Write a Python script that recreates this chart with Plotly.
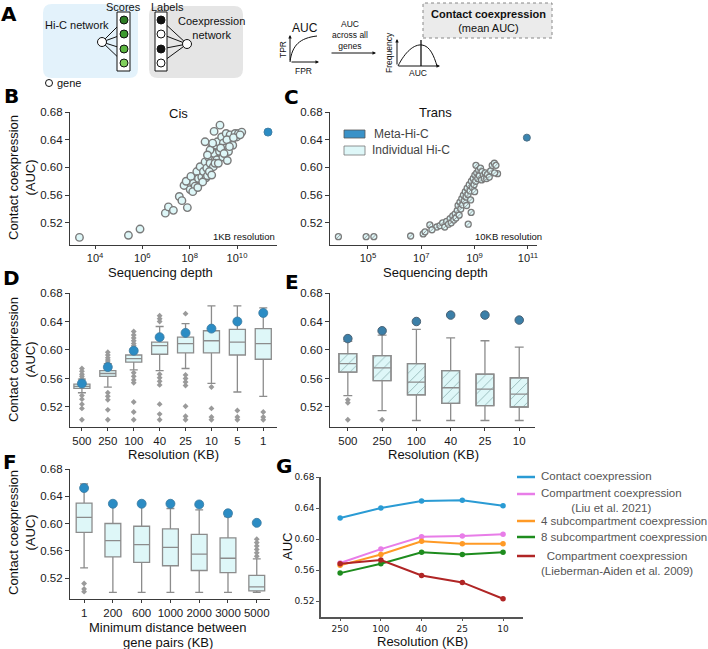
import plotly.graph_objects as go

W, H = 708, 649
def X(x): return x / W
def Y(y): return 1 - y / H

FONT = "Liberation Sans, Arial, sans-serif"
BOXFILL = "#def7f8"
BOXLINE = "#8c8c8c"
META = "#2b8cc4"
OUTL = "#9a9a9a"

# ---------------- data ----------------
# B: cis, 1KB resolution (log10 sequencing depth, AUC)
cis_log10_depth = [3.34, 5.41, 5.90, 6.97, 7.10, 7.31, 7.56, 7.67, 7.90, 7.76, 7.85, 8.02, 8.05, 8.16,
                   8.23, 8.30, 8.37, 8.44, 8.51, 8.58, 8.65, 8.69, 8.72, 8.79, 8.86, 8.65, 8.93, 9.00,
                   9.03, 9.03, 9.12, 9.15, 9.17, 9.26, 9.28, 9.35, 9.40, 9.42, 9.50, 9.54, 9.59, 9.64,
                   9.71, 9.78, 9.82, 9.92, 9.99, 10.06, 10.20, 8.13, 8.34, 8.55, 8.75, 8.83, 8.93, 9.07,
                   9.21, 9.31, 9.45, 9.57, 9.68, 9.85, 10.13, 8.86, 8.97, 8.75]
cis_auc = [0.499, 0.502, 0.511, 0.534, 0.543, 0.538, 0.558, 0.552, 0.542, 0.574, 0.580, 0.568, 0.587, 0.577,
           0.573, 0.594, 0.584, 0.601, 0.586, 0.594, 0.608, 0.585, 0.599, 0.615, 0.606, 0.637, 0.628, 0.601,
           0.620, 0.652, 0.632, 0.611, 0.637, 0.623, 0.661, 0.644, 0.615, 0.635, 0.628, 0.649, 0.610, 0.623,
           0.647, 0.640, 0.632, 0.649, 0.644, 0.649, 0.651, 0.565, 0.571, 0.579, 0.588, 0.594, 0.589, 0.606,
           0.606, 0.628, 0.620, 0.640, 0.630, 0.643, 0.647, 0.625, 0.635, 0.618]
cis_meta_log10_depth = [11.31]
cis_meta_auc = [0.651]

# C: trans, 10KB resolution
trans_log10_depth = [3.89, 4.93, 5.22, 6.60, 7.07, 7.14, 7.32, 7.58, 7.40, 7.70, 7.80, 7.88, 7.95, 8.02,
                     8.08, 8.12, 8.18, 8.22, 8.27, 8.30, 8.35, 8.38, 8.42, 8.45, 8.48, 8.52, 8.55, 8.58,
                     8.62, 8.65, 8.68, 8.72, 8.75, 8.76, 8.80, 8.83, 8.87, 8.88, 8.92, 8.95, 8.98, 9.01,
                     9.04, 9.05, 9.08, 9.12, 9.15, 9.18, 9.22, 9.26, 9.28, 9.33, 9.36, 9.40, 9.45, 9.48,
                     9.55, 9.60, 9.66, 9.74, 9.80, 9.86, 9.75, 9.00, 8.85, 8.70]
trans_auc = [0.500, 0.500, 0.500, 0.501, 0.504, 0.507, 0.517, 0.514, 0.510, 0.516, 0.520, 0.514, 0.522, 0.518,
             0.526, 0.520, 0.530, 0.524, 0.533, 0.527, 0.538, 0.545, 0.531, 0.550, 0.540, 0.555, 0.546, 0.560,
             0.552, 0.565, 0.557, 0.570, 0.561, 0.518, 0.575, 0.566, 0.535, 0.580, 0.571, 0.584, 0.575, 0.589,
             0.580, 0.603, 0.592, 0.584, 0.596, 0.588, 0.599, 0.582, 0.594, 0.589, 0.584, 0.592, 0.584, 0.590,
             0.586, 0.595, 0.603, 0.606, 0.603, 0.591, 0.592, 0.565, 0.553, 0.545]
trans_meta_log10_depth = [10.96]
trans_meta_auc = [0.643]

# D: cis, by resolution
d_res = ["500", "250", "100", "40", "25", "10", "5", "1"]
d_q1 = [0.546, 0.563, 0.583, 0.594, 0.596, 0.596, 0.593, 0.587]
d_med = [0.549, 0.567, 0.588, 0.606, 0.609, 0.613, 0.611, 0.609]
d_q3 = [0.552, 0.571, 0.593, 0.611, 0.618, 0.627, 0.629, 0.630]
d_lo = [0.540, 0.548, 0.572, 0.571, 0.574, 0.553, 0.541, 0.535]
d_hi = [0.559, 0.581, 0.602, 0.633, 0.637, 0.662, 0.662, 0.659]
d_meta = [0.553, 0.576, 0.599, 0.618, 0.624, 0.630, 0.640, 0.652]
d_out_res = (["500"] * 10 + ["250"] * 10 + ["100"] * 13 + ["40"] * 10 + ["25"] * 8 +
             ["10"] * 4 + ["5"] * 3 + ["1"] * 3)
d_out_auc = [0.574, 0.570, 0.566, 0.563, 0.560, 0.536, 0.531, 0.524, 0.518, 0.502,
             0.597, 0.593, 0.589, 0.586, 0.583, 0.540, 0.535, 0.530, 0.516, 0.502,
             0.626, 0.621, 0.617, 0.613, 0.609, 0.606, 0.568, 0.563, 0.558, 0.554, 0.527, 0.513, 0.502,
             0.648, 0.644, 0.640, 0.566, 0.561, 0.556, 0.551, 0.524, 0.510, 0.502,
             0.651, 0.565, 0.560, 0.555, 0.550, 0.521, 0.507, 0.502,
             0.548, 0.518, 0.506, 0.502,
             0.515, 0.506, 0.502,
             0.513, 0.506, 0.502]

# E: trans, by resolution
e_res = ["500", "250", "100", "40", "25", "10"]
e_q1 = [0.569, 0.557, 0.537, 0.525, 0.522, 0.520]
e_med = [0.581, 0.575, 0.555, 0.547, 0.545, 0.538]
e_q3 = [0.595, 0.592, 0.581, 0.571, 0.566, 0.561]
e_lo = [0.536, 0.515, 0.501, 0.501, 0.501, 0.501]
e_hi = [0.612, 0.621, 0.629, 0.617, 0.613, 0.604]
e_meta = [0.616, 0.627, 0.640, 0.649, 0.649, 0.642]
e_out_res = ["500", "500", "500", "250"]
e_out_auc = [0.530, 0.526, 0.502, 0.502]

# F: by minimum distance between gene pairs
f_dist = ["1", "200", "600", "1000", "2000", "3000", "5000"]
f_q1 = [0.587, 0.551, 0.543, 0.538, 0.531, 0.528, 0.501]
f_med = [0.609, 0.575, 0.569, 0.565, 0.555, 0.549, 0.507]
f_q3 = [0.630, 0.600, 0.596, 0.592, 0.584, 0.579, 0.524]
f_lo = [0.535, 0.499, 0.499, 0.499, 0.499, 0.499, 0.499]
f_hi = [0.658, 0.628, 0.628, 0.622, 0.620, 0.610, 0.548]
f_meta = [0.652, 0.629, 0.629, 0.629, 0.628, 0.615, 0.601]
f_out_dist = ["1", "1", "1", "5000", "5000", "5000", "5000", "5000", "5000"]
f_out_auc = [0.512, 0.504, 0.500, 0.552, 0.557, 0.562, 0.567, 0.572, 0.577]

# G: methods vs resolution
g_res = ["250", "100", "40", "25", "10"]
g_contact = [0.627, 0.640, 0.649, 0.650, 0.643]
g_liu = [0.569, 0.587, 0.603, 0.604, 0.606]
g_sub4 = [0.566, 0.580, 0.597, 0.594, 0.594]
g_sub8 = [0.556, 0.568, 0.583, 0.580, 0.583]
g_lieberman = [0.568, 0.573, 0.553, 0.544, 0.523]
g_names = ["Contact coexpression", "Compartment coexpression<br>(Liu et al. 2021)",
           "4 subcompartment coexpression", "8 subcompartment coexpression",
           "Compartment coexpression<br>(Lieberman-Aiden et al. 2009)"]
g_colors = ["#2a9bd4", "#e87de8", "#ff9a26", "#1e8c1e", "#b02525"]

auc_ticks = [0.52, 0.56, 0.60, 0.64, 0.68]

fig = go.Figure()

# ---------- B ----------
fig.add_trace(go.Scatter(x=[10 ** v for v in cis_log10_depth], y=cis_auc, mode="markers",
                         marker=dict(size=7.5, color=BOXFILL, line=dict(color="#7a7a7a", width=1.4)),
                         xaxis="x", yaxis="y", showlegend=False, hoverinfo="skip"))
fig.add_trace(go.Scatter(x=[10 ** v for v in cis_meta_log10_depth], y=cis_meta_auc, mode="markers",
                         marker=dict(size=8, color=META, line=dict(color="#3f7fa6", width=1)),
                         xaxis="x", yaxis="y", showlegend=False, hoverinfo="skip"))
# ---------- C ----------
fig.add_trace(go.Scatter(x=[10 ** v for v in trans_log10_depth], y=trans_auc, mode="markers",
                         marker=dict(size=6, color=BOXFILL, line=dict(color="#7a7a7a", width=1.3)),
                         xaxis="x2", yaxis="y2", showlegend=False, hoverinfo="skip"))
fig.add_trace(go.Scatter(x=[10 ** v for v in trans_log10_depth], y=trans_auc, mode="markers",
                         marker=dict(size=4, symbol="line-ne", line=dict(color="#8a8a8a", width=0.8)),
                         xaxis="x2", yaxis="y2", showlegend=False, hoverinfo="skip"))
fig.add_trace(go.Scatter(x=[10 ** v for v in trans_meta_log10_depth], y=trans_meta_auc, mode="markers",
                         marker=dict(size=7, color="#3a85b0", line=dict(color="#4d6f85", width=1)),
                         xaxis="x2", yaxis="y2", showlegend=False, hoverinfo="skip"))

# ---------- D ----------
fig.add_trace(go.Box(x=d_res, q1=d_q1, median=d_med, q3=d_q3, lowerfence=d_lo, upperfence=d_hi,
                     orientation="v", width=0.62, whiskerwidth=0.5, fillcolor=BOXFILL,
                     line=dict(color=BOXLINE, width=1.3), boxpoints=False,
                     xaxis="x3", yaxis="y3", showlegend=False, hoverinfo="skip"))
fig.add_trace(go.Scatter(x=d_out_res, y=d_out_auc, mode="markers",
                         marker=dict(symbol="diamond", size=4.5, color=OUTL),
                         xaxis="x3", yaxis="y3", showlegend=False, hoverinfo="skip"))
fig.add_trace(go.Scatter(x=d_res, y=d_meta, mode="markers",
                         marker=dict(size=9, color=META, line=dict(color="#3a7aa0", width=0.8)),
                         xaxis="x3", yaxis="y3", showlegend=False, hoverinfo="skip"))

# ---------- E ----------
fig.add_trace(go.Bar(x=e_res, y=[a - b for a, b in zip(e_q3, e_q1)], base=e_q1, width=0.52,
                     marker=dict(color=BOXFILL, line=dict(color=BOXLINE, width=1.3),
                                 pattern=dict(shape="/", fgcolor="#8fb3b3", bgcolor=BOXFILL,
                                              size=7, solidity=0.12)),
                     xaxis="x4", yaxis="y4", showlegend=False, hoverinfo="skip"))
fig.add_trace(go.Box(x=e_res, q1=e_q1, median=e_med, q3=e_q3, lowerfence=e_lo, upperfence=e_hi,
                     orientation="v", width=0.52, whiskerwidth=0.5, fillcolor="rgba(0,0,0,0)",
                     line=dict(color=BOXLINE, width=1.3), boxpoints=False,
                     xaxis="x4", yaxis="y4", showlegend=False, hoverinfo="skip"))
fig.add_trace(go.Scatter(x=e_out_res, y=e_out_auc, mode="markers",
                         marker=dict(symbol="diamond", size=4.5, color=OUTL),
                         xaxis="x4", yaxis="y4", showlegend=False, hoverinfo="skip"))
fig.add_trace(go.Scatter(x=e_res, y=e_meta, mode="markers",
                         marker=dict(size=8.5, color="#3b7fa8", line=dict(color="#4a6275", width=1)),
                         xaxis="x4", yaxis="y4", showlegend=False, hoverinfo="skip"))

# ---------- F ----------
fig.add_trace(go.Box(x=f_dist, q1=f_q1, median=f_med, q3=f_q3, lowerfence=f_lo, upperfence=f_hi,
                     orientation="v", width=0.55, whiskerwidth=0.5, fillcolor=BOXFILL,
                     line=dict(color=BOXLINE, width=1.3), boxpoints=False,
                     xaxis="x5", yaxis="y5", showlegend=False, hoverinfo="skip"))
fig.add_trace(go.Scatter(x=f_out_dist, y=f_out_auc, mode="markers",
                         marker=dict(symbol="diamond", size=4.5, color=OUTL),
                         xaxis="x5", yaxis="y5", showlegend=False, hoverinfo="skip"))
fig.add_trace(go.Scatter(x=f_dist, y=f_meta, mode="markers",
                         marker=dict(size=9, color=META, line=dict(color="#3a7aa0", width=0.8)),
                         xaxis="x5", yaxis="y5", showlegend=False, hoverinfo="skip"))

# ---------- G ----------
for vals, col in zip([g_contact, g_liu, g_sub4, g_sub8, g_lieberman], g_colors):
    fig.add_trace(go.Scatter(x=g_res, y=vals, mode="lines+markers",
                             line=dict(color=col, width=2), marker=dict(size=5.5, color=col),
                             xaxis="x6", yaxis="y6", showlegend=False, hoverinfo="skip"))

# ---------- axes ----------
def axis(domain, anchor, **kw):
    d = dict(domain=domain, anchor=anchor, showline=True, linecolor="#3a3a3a", linewidth=1.2,
             ticks="outside", ticklen=3, tickwidth=1.1, tickcolor="#3a3a3a",
             tickfont=dict(size=11, color="#1a1a1a", family=FONT),
             showgrid=False, zeroline=False, automargin=False, fixedrange=True)
    d.update(kw)
    return d

def yauc(domain, anchor, lo, size=11.5, fam=FONT):
    return axis(domain, anchor, range=[lo, 0.68], tickvals=auc_ticks, ticklen=4,
                ticktext=["%.2f" % t for t in auc_ticks], tickfont=dict(size=size, color="#1a1a1a", family=fam))

log_b = [4, 6, 8, 10]
log_c = [5, 7, 9, 11]
fig.update_layout(
    xaxis=axis([X(70), X(277)], "y", type="log", range=[2.94, 11.69],
               tickvals=[10 ** e for e in log_b], ticktext=["10<sup>%d</sup>" % e for e in log_b]),
    yaxis=yauc([Y(245), Y(112)], "x", 0.488),
    xaxis2=axis([X(330), X(537)], "y2", type="log", range=[3.575, 11.34],
                tickvals=[10 ** e for e in log_c], ticktext=["10<sup>%d</sup>" % e for e in log_c]),
    yaxis2=yauc([Y(245), Y(112)], "x2", 0.488),
    xaxis3=axis([X(70), X(277)], "y3", type="category", categoryorder="array",
                categoryarray=d_res, range=[-0.46, 7.53], tickfont=dict(size=11.5, color="#1a1a1a", family=FONT)),
    yaxis3=yauc([Y(427), Y(293)], "x3", 0.4919),
    xaxis4=axis([X(330), X(535)], "y4", type="category", categoryorder="array",
                categoryarray=e_res, range=[-0.52, 5.46], tickfont=dict(size=11.5, color="#1a1a1a", family=FONT)),
    yaxis4=yauc([Y(427), Y(293)], "x4", 0.4919),
    xaxis5=axis([X(70), X(270)], "y5", type="category", categoryorder="array",
                categoryarray=f_dist, range=[-0.49, 6.46], tickfont=dict(size=11.5, color="#1a1a1a", family=FONT)),
    yaxis5=yauc([Y(599), Y(469)], "x5", 0.4892),
    xaxis6=axis([X(321), X(523)], "y6", type="category", categoryorder="array",
                categoryarray=g_res, range=[-0.47, 4.49],
                tickfont=dict(size=9, color="#1a1a1a", family="DejaVu Sans"),
                linecolor="#555", tickcolor="#555", linewidth=1.5, ticklen=2.5),
    yaxis6=axis([Y(617), Y(477)], "x6", range=[0.4994, 0.68], tickvals=auc_ticks,
                ticktext=["%.2f" % t for t in auc_ticks],
                tickfont=dict(size=9, color="#1a1a1a", family="DejaVu Sans"),
                linecolor="#555", tickcolor="#555", linewidth=1.5),
)

# ---------- annotations ----------
ann = []
def txt(x, y, s, size=13, color="#111", xanchor="center", yanchor="middle", angle=0,
        bold=False, family=FONT, align="center"):
    if bold:
        s = "<b>" + s + "</b>"
    ann.append(dict(x=X(x), y=Y(y), xref="paper", yref="paper", text=s, showarrow=False,
                    font=dict(size=size, color=color, family=family), xanchor=xanchor,
                    yanchor=yanchor, textangle=angle, align=align))

# panel letters
for letter, (lx, ly) in {"A": (9, 14), "B": (11, 96), "C": (291, 97), "D": (11, 278),
                         "E": (292, 282), "F": (10, 462), "G": (284, 466)}.items():
    txt(lx, ly, letter, size=20, bold=True, color="#000", family="DejaVu Sans")

# B / C texts
txt(178, 113, "Cis", size=13)
txt(435, 112, "Trans", size=13)
txt(277, 237, "1KB resolution", size=9.5, xanchor="right")
txt(544, 237, "10KB resolution", size=9.5, xanchor="right")
txt(160, 272, "Sequencing depth", size=13)
txt(435, 272, "Sequencing depth", size=13)
txt(22, 178, "Contact coexpression<br>(AUC)", size=13, angle=-90)
# C legend
txt(372, 134, "Meta-Hi-C", size=12, color="#444", xanchor="left")
txt(370, 150, "Individual Hi-C", size=12, color="#444", xanchor="left")

# D / E
txt(22, 360, "Contact coexpression<br>(AUC)", size=13, angle=-90)
txt(173, 454, "Resolution (KB)", size=13)
txt(433, 454, "Resolution (KB)", size=13)
# F
txt(22, 533, "Contact coexpression<br>(AUC)", size=13, angle=-90)
txt(168, 627, "Minimum distance between", size=13)
txt(168, 642, "gene pairs (KB)", size=13)
# G
txt(287, 547, "AUC", size=13, angle=-90)
txt(422, 641, "Resolution (KB)", size=13)
g_text_y = [476, 500, 521, 537, 563]
for name, ty in zip(g_names, g_text_y):
    txt(539, ty, name, size=11.5, color="#555", xanchor="left")

# Panel A texts
txt(77, 25, "Hi-C network", size=11)
txt(123, 7, "Scores", size=11)
txt(167, 7, "Labels", size=11)
txt(211, 28, "Coexpression<br>network", size=11)
txt(55, 83, "gene", size=11, xanchor="left")
txt(305, 28, "AUC", size=12)
txt(283, 50, "TPR", size=8.5, angle=-90)
txt(303, 71, "FPR", size=8.5)
txt(350, 35, "AUC<br>across all<br>genes", size=8.5)
txt(389, 53, "Frequency", size=8.5, angle=-90)
txt(418, 73, "AUC", size=8.5)
txt(488, 21, "<b>Contact coexpression</b><br>(mean AUC)", size=11)

# arrows in panel A
def arrow(x1, y1, x0, y0):
    ann.append(dict(x=X(x1), y=Y(y1), xref="paper", yref="paper", ax=x0 - x1, ay=y0 - y1,
                    axref="pixel", ayref="pixel", showarrow=True, arrowhead=2, arrowsize=0.7,
                    arrowwidth=1, arrowcolor="#111", text=""))
arrow(290, 35, 290, 62)
arrow(319, 62, 290, 62)
arrow(376, 53, 330, 53)
arrow(397, 39, 397, 66)
arrow(440, 66, 397, 66)

fig.update_layout(annotations=ann)

# ---------- shapes ----------
shapes = []
def rrect(x0, y0, x1, y1, r, fill):
    pts = (f"M {X(x0 + r)},{Y(y0)} L {X(x1 - r)},{Y(y0)} Q {X(x1)},{Y(y0)} {X(x1)},{Y(y0 + r)} "
           f"L {X(x1)},{Y(y1 - r)} Q {X(x1)},{Y(y1)} {X(x1 - r)},{Y(y1)} "
           f"L {X(x0 + r)},{Y(y1)} Q {X(x0)},{Y(y1)} {X(x0)},{Y(y1 - r)} "
           f"L {X(x0)},{Y(y0 + r)} Q {X(x0)},{Y(y0)} {X(x0 + r)},{Y(y0)} Z")
    shapes.append(dict(type="path", path=pts, xref="paper", yref="paper", fillcolor=fill,
                       line=dict(width=0, color=fill), layer="below", opacity=1))

def circ(cx, cy, r, fill, line="#111", w=1):
    shapes.append(dict(type="circle", xref="paper", yref="paper", x0=X(cx - r), x1=X(cx + r),
                       y0=Y(cy + r), y1=Y(cy - r), fillcolor=fill, line=dict(color=line, width=w),
                       opacity=1, layer="above"))

def seg(x0, y0, x1, y1, color="#111", w=1, dash=None):
    shapes.append(dict(type="line", xref="paper", yref="paper", x0=X(x0), y0=Y(y0), x1=X(x1),
                       y1=Y(y1), line=dict(color=color, width=w, dash=dash), opacity=1))

def rect(x0, y0, x1, y1, fill="rgba(0,0,0,0)", line="#111", w=1, dash=None):
    shapes.append(dict(type="rect", xref="paper", yref="paper", x0=X(x0), x1=X(x1), y0=Y(y1),
                       y1=Y(y0), fillcolor=fill, line=dict(color=line, width=w, dash=dash),
                       opacity=1))

rrect(43, 4, 138, 78, 9, "#e3f2fb")
rrect(149, 6, 243, 78, 9, "#e5e5e5")
rect(423, 3, 552, 38, fill="#ebebeb", line="#888", w=1, dash="dot")

score_y = [20, 34, 49, 63]
greens = ["#2e7d25", "#3e9a30", "#5bb53f", "#80cf5c"]
labels_fill = ["#111", "#fff", "#111", "#fff"]
for sy in score_y:
    seg(102, 42, 124, sy)
    seg(187, 44, 161, sy)
rect(117, 12, 130, 71, fill="#ffffff")
rect(155, 12, 167, 71, fill="#ffffff")
circ(102, 42, 4.5, "#fff")
circ(187, 44, 4.5, "#fff")
for sy, g, lf in zip(score_y, greens, labels_fill):
    circ(124, sy, 4, g)
    circ(161, sy, 4, lf)
circ(49, 83, 3.5, "#fff")

# ROC curve and frequency curve
shapes.append(dict(type="path", xref="paper", yref="paper", fillcolor="rgba(0,0,0,0)", opacity=1,
                   path=f"M {X(290)},{Y(62)} C {X(292)},{Y(45)} {X(300)},{Y(38)} {X(317)},{Y(36)}",
                   line=dict(color="#111", width=1)))
shapes.append(dict(type="path", xref="paper", yref="paper", fillcolor="rgba(0,0,0,0)", opacity=1,
                   path=f"M {X(398)},{Y(66)} C {X(405)},{Y(52)} {X(414)},{Y(44)} {X(422)},{Y(45)} "
                        f"C {X(430)},{Y(46)} {X(434)},{Y(56)} {X(437)},{Y(66)}",
                   line=dict(color="#111", width=1)))
seg(421, 40, 421, 66, w=1.3)

# C legend swatches
rect(344, 130, 365, 138, fill="#3a92c8", line="#555", w=0.8)
rect(344, 146, 365, 155, fill=BOXFILL, line="#777", w=0.8)

# G legend swatches
for ly, col in zip([477, 494, 521, 537, 556], g_colors):
    seg(517, ly, 535, ly, color=col, w=2.5)

fig.update_layout(shapes=shapes)

fig.update_layout(width=W, height=H, margin=dict(l=0, r=0, t=0, b=0),
                  paper_bgcolor="white", plot_bgcolor="white", template="none",
                  font=dict(family=FONT), barmode="overlay", boxmode="overlay")

fig.write_html("out.html", config={"displayModeBar": False},
               post_script="document.body.style.margin='0px';")
